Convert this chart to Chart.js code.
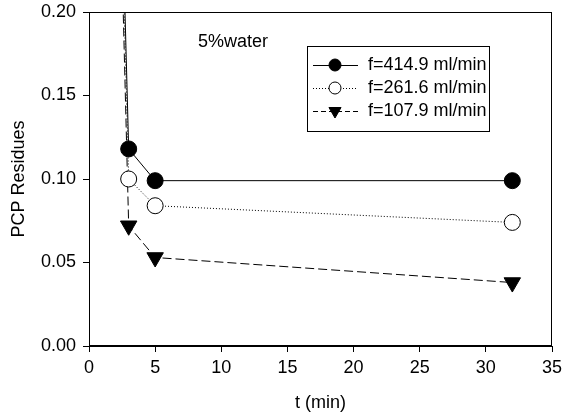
<!DOCTYPE html>
<html>
<head>
<meta charset="utf-8">
<script src="https://cdn.jsdelivr.net/npm/chart.js@4.4.1/dist/chart.umd.min.js"></script>
<style>
html,body{margin:0;padding:0;background:#fff;}
#wrap{position:relative;width:563px;height:414px;}
</style>
</head>
<body>
<div id="wrap"><canvas id="c" width="563" height="414"></canvas></div>
<script>
const times = [0, 3, 5, 32];
const seriesLabels = ['f=414.9 ml/min', 'f=261.6 ml/min', 'f=107.9 ml/min'];
const f414 = [1.0, 0.118, 0.099, 0.099];
const f261 = [1.0, 0.100, 0.084, 0.074];
const f107 = [1.0, 0.072, 0.053, 0.038];
const xTicks = [0, 5, 10, 15, 20, 25, 30, 35];
const yTicks = [0.00, 0.05, 0.10, 0.15, 0.20];
const annotationText = '5%water';
const xTitle = 't (min)';
const yTitle = 'PCP Residues';

const FONT = "'Liberation Sans', Arial, sans-serif";
const FS = 18;

function pts(vals){ return times.map((t,i)=>({x:t,y:vals[i]})); }

const styles = [
  {borderDash: [], pointStyle: 'circle', bg: '#000', rot: 0, r: 8, lr: 6},
  {borderDash: [1, 2], pointStyle: 'circle', bg: '#fff', rot: 0, r: 8, lr: 6},
  {borderDash: [9, 4], pointStyle: 'triangle', bg: '#000', rot: 180, r: 9.5, lr: 7}
];
const seriesVals = [f414, f261, f107];

const datasets = seriesVals.map((v,i)=>({
  label: seriesLabels[i],
  data: pts(v),
  borderColor: '#000',
  borderWidth: 1,
  borderDash: styles[i].borderDash,
  backgroundColor: styles[i].bg,
  pointBackgroundColor: styles[i].bg,
  pointBorderColor: '#000',
  pointBorderWidth: 1,
  pointStyle: styles[i].pointStyle,
  pointRotation: styles[i].rot,
  pointRadius: v.map((_,k)=> k===0 ? 0 : styles[i].r),
  tension: 0,
  fill: false
}));

const legendDash = [[], [1, 2], [5, 3]];

const framePlugin = {
  id: 'frame',
  afterDraw(chart){
    const {ctx, chartArea:a} = chart;
    ctx.save();
    ctx.strokeStyle = '#000';
    ctx.lineWidth = 1;
    ctx.strokeRect(Math.round(a.left)+0.5, Math.round(a.top)+0.5, Math.round(a.right-a.left)-1, Math.round(a.bottom-a.top)-1);
    ctx.fillStyle = '#000';
    ctx.font = FS + 'px ' + FONT;
    ctx.textBaseline = 'middle';
    ctx.textAlign = 'left';
    ctx.fillText(annotationText, 198, 42);
    // legend
    const bx = 307, by = 46, bw = 182, bh = 85;
    ctx.strokeRect(bx+0.5, by+0.5, bw, bh);
    const rows = [65, 88, 111];
    chart.data.datasets.forEach((ds,i)=>{
      const y = rows[i];
      ctx.save();
      ctx.setLineDash(legendDash[i]);
      ctx.beginPath();
      ctx.moveTo(313, y+0.5);
      ctx.lineTo(358, y+0.5);
      ctx.stroke();
      ctx.restore();
      ctx.save();
      ctx.fillStyle = ds.pointBackgroundColor; ctx.strokeStyle='#000'; ctx.lineWidth=1;
      Chart.helpers.drawPoint(ctx, {pointStyle: ds.pointStyle, radius: styles[i].lr, rotation: ds.pointRotation, borderWidth:1}, 335, y);
      ctx.restore();
      ctx.fillStyle = '#000';
      ctx.font = FS + 'px ' + FONT;
      ctx.textBaseline = 'middle';
      ctx.fillText(ds.label, 368, y);
    });
    ctx.restore();
  }
};

new Chart(document.getElementById('c'), {
  type: 'line',
  data: { datasets },
  options: {
    responsive: false,
    animation: false,
    devicePixelRatio: 1,
    layout: { padding: { left: 0, right: 11, top: 12, bottom: 0 } },
    plugins: { legend: { display: false }, tooltip: { enabled: false } },
    scales: {
      x: {
        type: 'linear', min: 0, max: 35,
        afterBuildTicks: s => { s.ticks = xTicks.map(v=>({value:v})); },
        afterFit: s => { s.height = 68; s.paddingLeft = 0; s.paddingRight = 0; },
        border: { display: true, color: '#000', width: 1 },
        grid: { drawOnChartArea: false, drawTicks: true, tickLength: 6, color: '#000' },
        ticks: { color: '#000', font: { family: FONT, size: FS }, padding: 5, maxRotation: 0, callback: v => String(v) },
        title: { display: true, text: xTitle, color: '#000', font: { family: FONT, size: FS }, padding: { top: 4, bottom: 0 } }
      },
      y: {
        type: 'linear', min: 0, max: 0.2,
        afterBuildTicks: s => { s.ticks = yTicks.map(v=>({value:v})); },
        afterFit: s => { s.width = 89; s.paddingTop = 0; s.paddingBottom = 0; },
        border: { display: true, color: '#000', width: 1 },
        grid: { drawOnChartArea: false, drawTicks: true, tickLength: 6, color: '#000' },
        ticks: { color: '#000', font: { family: FONT, size: FS }, padding: 7, callback: v => v.toFixed(2) },
        title: { display: true, text: yTitle, color: '#000', font: { family: FONT, size: FS }, padding: { top: 8, bottom: 0 } }
      }
    }
  },
  plugins: [framePlugin]
});
</script>
</body>
</html>
